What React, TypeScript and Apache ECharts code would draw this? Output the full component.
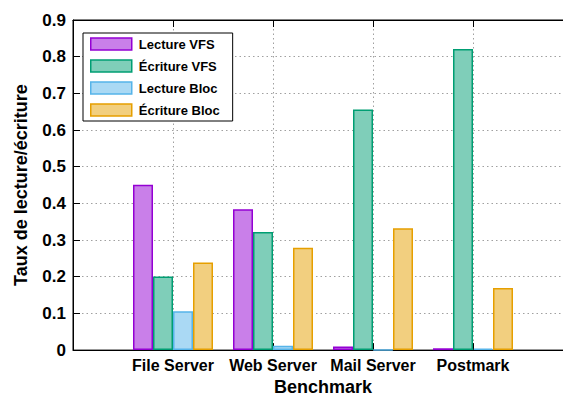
import React, { useEffect, useRef } from "react";
import * as echarts from "echarts";

const categories = ["File Server", "Web Server", "Mail Server", "Postmark"];
const seriesNames = ["Lecture VFS", "Écriture VFS", "Lecture Bloc", "Écriture Bloc"];
const lectureVFS = [0.451, 0.384, 0.010, 0.005];
const ecritureVFS = [0.201, 0.322, 0.656, 0.821];
const lectureBloc = [0.106, 0.012, 0.001, 0.004];
const ecritureBloc = [0.239, 0.279, 0.332, 0.169];
const yTicks = { min: 0, max: 0.9, interval: 0.1 };

const lineColors = ["#9400d3", "#009e73", "#56b4e9", "#e69f00"];
const fillColors = ["#c97fe9", "#7fceb9", "#aad9f4", "#f2cf7f"];

const FONT = "Liberation Sans";

export default function App() {
  const ref = useRef<HTMLDivElement>(null);
  useEffect(() => {
    if (!ref.current) return;
    const chart = echarts.init(ref.current, null, { renderer: "svg" });
    const padded = ["", ...categories, ""];
    const values = [lectureVFS, ecritureVFS, lectureBloc, ecritureBloc];
    const dotted = { color: "#a0a0a0", width: 1, type: [1.5, 3] as any };
    chart.setOption({
      animation: false,
      backgroundColor: "#fff",
      textStyle: { fontFamily: FONT },
      grid: {
        left: 73,
        top: 20,
        width: 500,
        height: 333,
        show: true,
        borderColor: "#000",
        borderWidth: 1,
        backgroundColor: "transparent",
      },
      legend: {
        orient: "vertical",
        left: 83,
        top: 33,
        itemWidth: 41,
        itemHeight: 12,
        itemGap: 6,
        padding: [3, 13, 3, 7],
        borderColor: "#000",
        borderWidth: 1,
        backgroundColor: "#fff",
        icon: "rect",
        textStyle: { fontSize: 13, fontWeight: "bold", fontFamily: FONT, color: "#000", lineHeight: 16, padding: [0, 0, 0, 2] },
        data: seriesNames.map((n, i) => ({
          name: n,
          itemStyle: { color: fillColors[i], borderColor: lineColors[i], borderWidth: 1.5 },
        })),
      },
      xAxis: [
        {
          type: "category",
          data: padded,
          boundaryGap: false,
          position: "bottom",
          axisLine: { show: true, lineStyle: { color: "#000", width: 1 } },
          axisTick: { show: true, inside: true, length: 7, lineStyle: { color: "#000" } },
          axisLabel: { fontSize: 16, fontWeight: "bold", color: "#000", fontFamily: FONT, margin: 7, interval: 0 },
          splitLine: { show: true, lineStyle: dotted },
          name: "Benchmark",
          nameLocation: "middle",
          nameGap: 22,
          nameTextStyle: { fontSize: 18, fontWeight: "bold", color: "#000", fontFamily: FONT },
        },
        {
          type: "category",
          data: padded,
          boundaryGap: false,
          position: "top",
          axisLine: { show: true, lineStyle: { color: "#000", width: 1 } },
          axisTick: { show: true, inside: true, length: 7, lineStyle: { color: "#000" } },
          axisLabel: { show: false },
          splitLine: { show: false },
        },
      ],
      yAxis: {
        type: "value",
        min: yTicks.min,
        max: yTicks.max,
        interval: yTicks.interval,
        axisLine: { show: true, lineStyle: { color: "#000", width: 1 } },
        axisTick: { show: true, inside: true, length: 7, lineStyle: { color: "#000" } },
        axisLabel: {
          fontSize: 17,
          fontWeight: "bold",
          color: "#000",
          fontFamily: FONT,
          margin: 7,
          formatter: (v: number) => (v === 0 ? "0" : v.toFixed(1)),
        },
        splitLine: { show: true, lineStyle: dotted },
        name: "Taux de lecture/écriture",
        nameLocation: "middle",
        nameGap: 43,
        nameTextStyle: { fontSize: 18, fontWeight: "bold", color: "#000", fontFamily: FONT },
      },
      series: values.map((vals, i) => ({
        type: "bar",
        name: seriesNames[i],
        xAxisIndex: 0,
        data: [null, ...vals, null],
        barWidth: 20,
        barGap: "0%",
        itemStyle: { color: fillColors[i], borderColor: lineColors[i], borderWidth: 1.5 },
      })),
    });
    return () => chart.dispose();
  }, []);
  return (
    <div style={{ position: "absolute", left: 0, top: 0, width: 563, height: 401, overflow: "hidden", background: "#fff" }}>
      <div ref={ref} style={{ width: 600, height: 401 }} />
    </div>
  );
}
